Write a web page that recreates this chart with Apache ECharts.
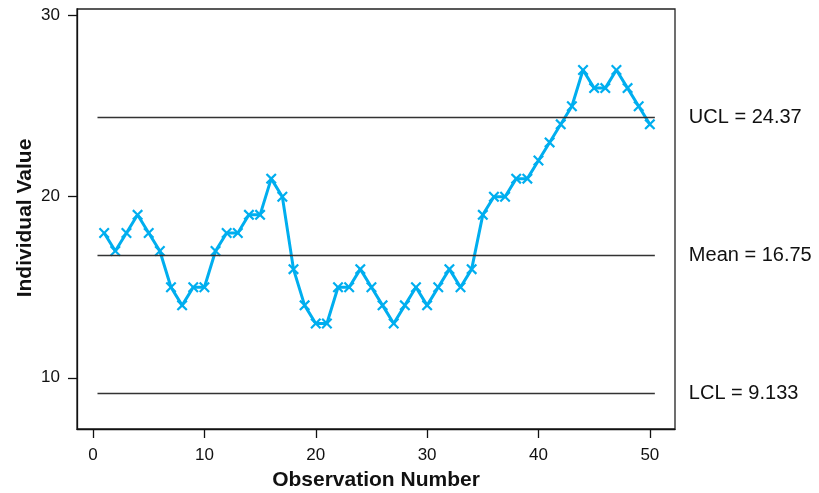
<!DOCTYPE html>
<html>
<head>
<meta charset="utf-8">
<script src="https://cdn.jsdelivr.net/npm/echarts@6/dist/echarts.min.js"></script>
<style>
html,body{margin:0;padding:0;background:#fff;}
#chart{width:819px;height:493px;}
</style>
</head>
<body>
<div id="chart"></div>
<script>
// Data
const observations = [1,2,3,4,5,6,7,8,9,10,11,12,13,14,15,16,17,18,19,20,21,22,23,24,25,26,27,28,29,30,31,32,33,34,35,36,37,38,39,40,41,42,43,44,45,46,47,48,49,50];
const individualValues = [18,17,18,19,18,17,15,14,15,15,17,18,18,19,19,21,20,16,14,13,13,15,15,16,15,14,13,14,15,14,15,16,15,16,19,20,20,21,21,22,23,24,25,27,26,26,27,26,25,24];
const limitNames = ['UCL','Mean','LCL'];
const limitValues = [24.37, 16.75, 9.133];
const xTicks = [0,10,20,30,40,50];
const yTicks = [10,20,30];
const limitSpan = [0.4, 50.45];

const chart = echarts.init(document.getElementById('chart'), null, {renderer:'canvas'});
const FONT = 'Liberation Sans, Arial, Helvetica, sans-serif';
const xMark = 'path://M0,1.7 L1.7,0 L6,4.3 L10.3,0 L12,1.7 L7.7,6 L12,10.3 L10.3,12 L6,7.7 L1.7,12 L0,10.3 L4.3,6 Z';

const markData = limitValues.map((v,i)=>[
  {coord:[limitSpan[0], v], label:{formatter: limitNames[i] + ' = ' + String(v)}},
  {coord:[limitSpan[1], v]}
]);

chart.setOption({
  animation:false,
  backgroundColor:'#fff',
  grid:{left:77, right:144, top:9, bottom:64, show:true, borderColor:'#222', borderWidth:1.3, backgroundColor:'transparent', containLabel:false, outerBoundsMode:'none'},
  xAxis:{
    type:'value', min:-1.44, max:52.26,
    axisLine:{show:true, onZero:false, lineStyle:{color:'#111', width:1.3}},
    axisTick:{show:true, inside:false, length:9, lineStyle:{color:'#111', width:1.3}, customValues:xTicks},
    axisLabel:{show:true, margin:18, color:'#111', fontSize:17, fontFamily:FONT, customValues:xTicks},
    splitLine:{show:false},
    name:'Observation Number', nameLocation:'middle', nameGap:41,
    nameTextStyle:{fontSize:21, fontWeight:'bold', color:'#111', fontFamily:FONT}
  },
  yAxis:{
    type:'value', min:7.17, max:30.37,
    axisLine:{show:true, onZero:false, lineStyle:{color:'#111', width:1.3}},
    axisTick:{show:true, inside:false, length:9, lineStyle:{color:'#111', width:1.3}, customValues:yTicks},
    axisLabel:{show:true, margin:17, color:'#111', fontSize:17, fontFamily:FONT, customValues:yTicks},
    splitLine:{show:false}
  },
  graphic:[{
    type:'text', x:25, y:218, rotation:Math.PI/2,
    style:{text:'Individual Value', fill:'#111', font:'bold 21px ' + FONT, textAlign:'center', textVerticalAlign:'middle'}
  }],
  series:[{
    type:'line',
    data: observations.map((o,i)=>[o, individualValues[i]]),
    symbol: xMark, symbolSize:11, showSymbol:true,
    lineStyle:{color:'#00AEEF', width:3},
    itemStyle:{color:'#00AEEF'},
    z:3,
    markLine:{
      silent:true, symbol:['none','none'], animation:false,
      lineStyle:{color:'#333', width:1.3, type:'solid'},
      label:{show:true, position:'end', distance:34, color:'#111', fontSize:20, fontFamily:FONT},
      data: markData
    }
  }]
});
</script>
</body>
</html>
